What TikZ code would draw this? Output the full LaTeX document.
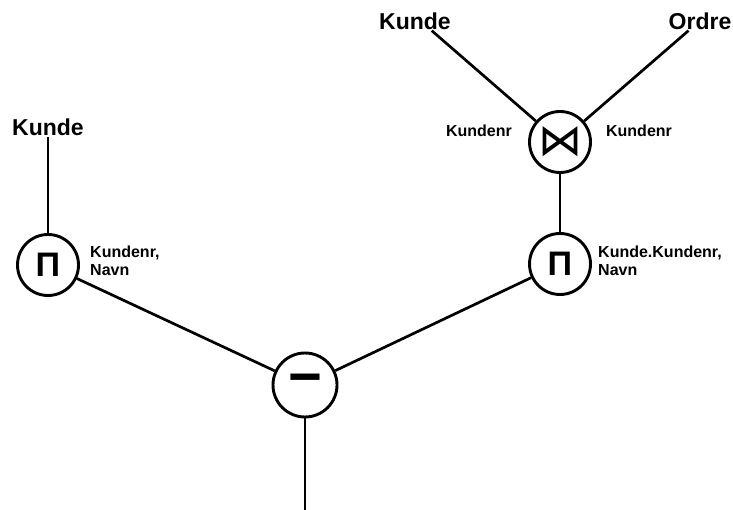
\documentclass[tikz,border=0pt]{standalone}
\usepackage{fontspec}
\setmainfont{Liberation Sans}
\newfontfamily\symfont{DejaVu Sans}
\begin{document}
\begin{tikzpicture}[x=1pt,y=-1pt,
  op/.style={circle,draw,line width=2.9pt,minimum size=61pt,inner sep=0pt},
  rel/.style={font=\fontsize{23}{27}\selectfont\bfseries,inner sep=1pt},
  attr/.style={font=\fontsize{16}{18}\selectfont\bfseries,inner sep=0pt,align=left},
  projsym/.style={font=\fontsize{34}{34}\selectfont\bfseries},
  edge/.style={line width=2.7pt}]
\useasboundingbox (0,0) rectangle (733,510);

% relations
\node[rel] (kundeL) at (48,127) {Kunde};
\node[rel] (kundeT) at (415,21) {Kunde};
\node[rel] (ordre)  at (700,21) {Ordre};

% operators
\node[op,projsym] (piL)   at (48,265)  {Π};
\node[op] (join)  at (560,142) {\symfont\fontsize{44}{44}\selectfont ⋈};
\node[op,projsym] (piR)   at (560,264) {Π};
\node[op,minimum size=64pt] (minus) at (305,385) {\fontsize{58}{58}\selectfont\bfseries −};
\coordinate (out) at (305,510);

% attribute lists
\node[attr,anchor=north west] (aL) at (90,246) {Kundenr,\\Navn};
\node[attr,anchor=north west] (aR) at (598,246) {Kunde.Kundenr,\\Navn};
\node[attr] (jL) at (479,131) {Kundenr};
\node[attr] (jR) at (639,131) {Kundenr};

% edges
\draw[edge] (kundeL) -- (piL);
\draw[edge] (kundeT.-30) -- (join);
\draw[edge] (ordre.-140) -- (join);
\draw[edge] (join) -- (piR);
\draw[edge] (piL) -- (minus);
\draw[edge] (piR) -- (minus);
\draw[edge] (minus) -- (out);
\end{tikzpicture}
\end{document}
